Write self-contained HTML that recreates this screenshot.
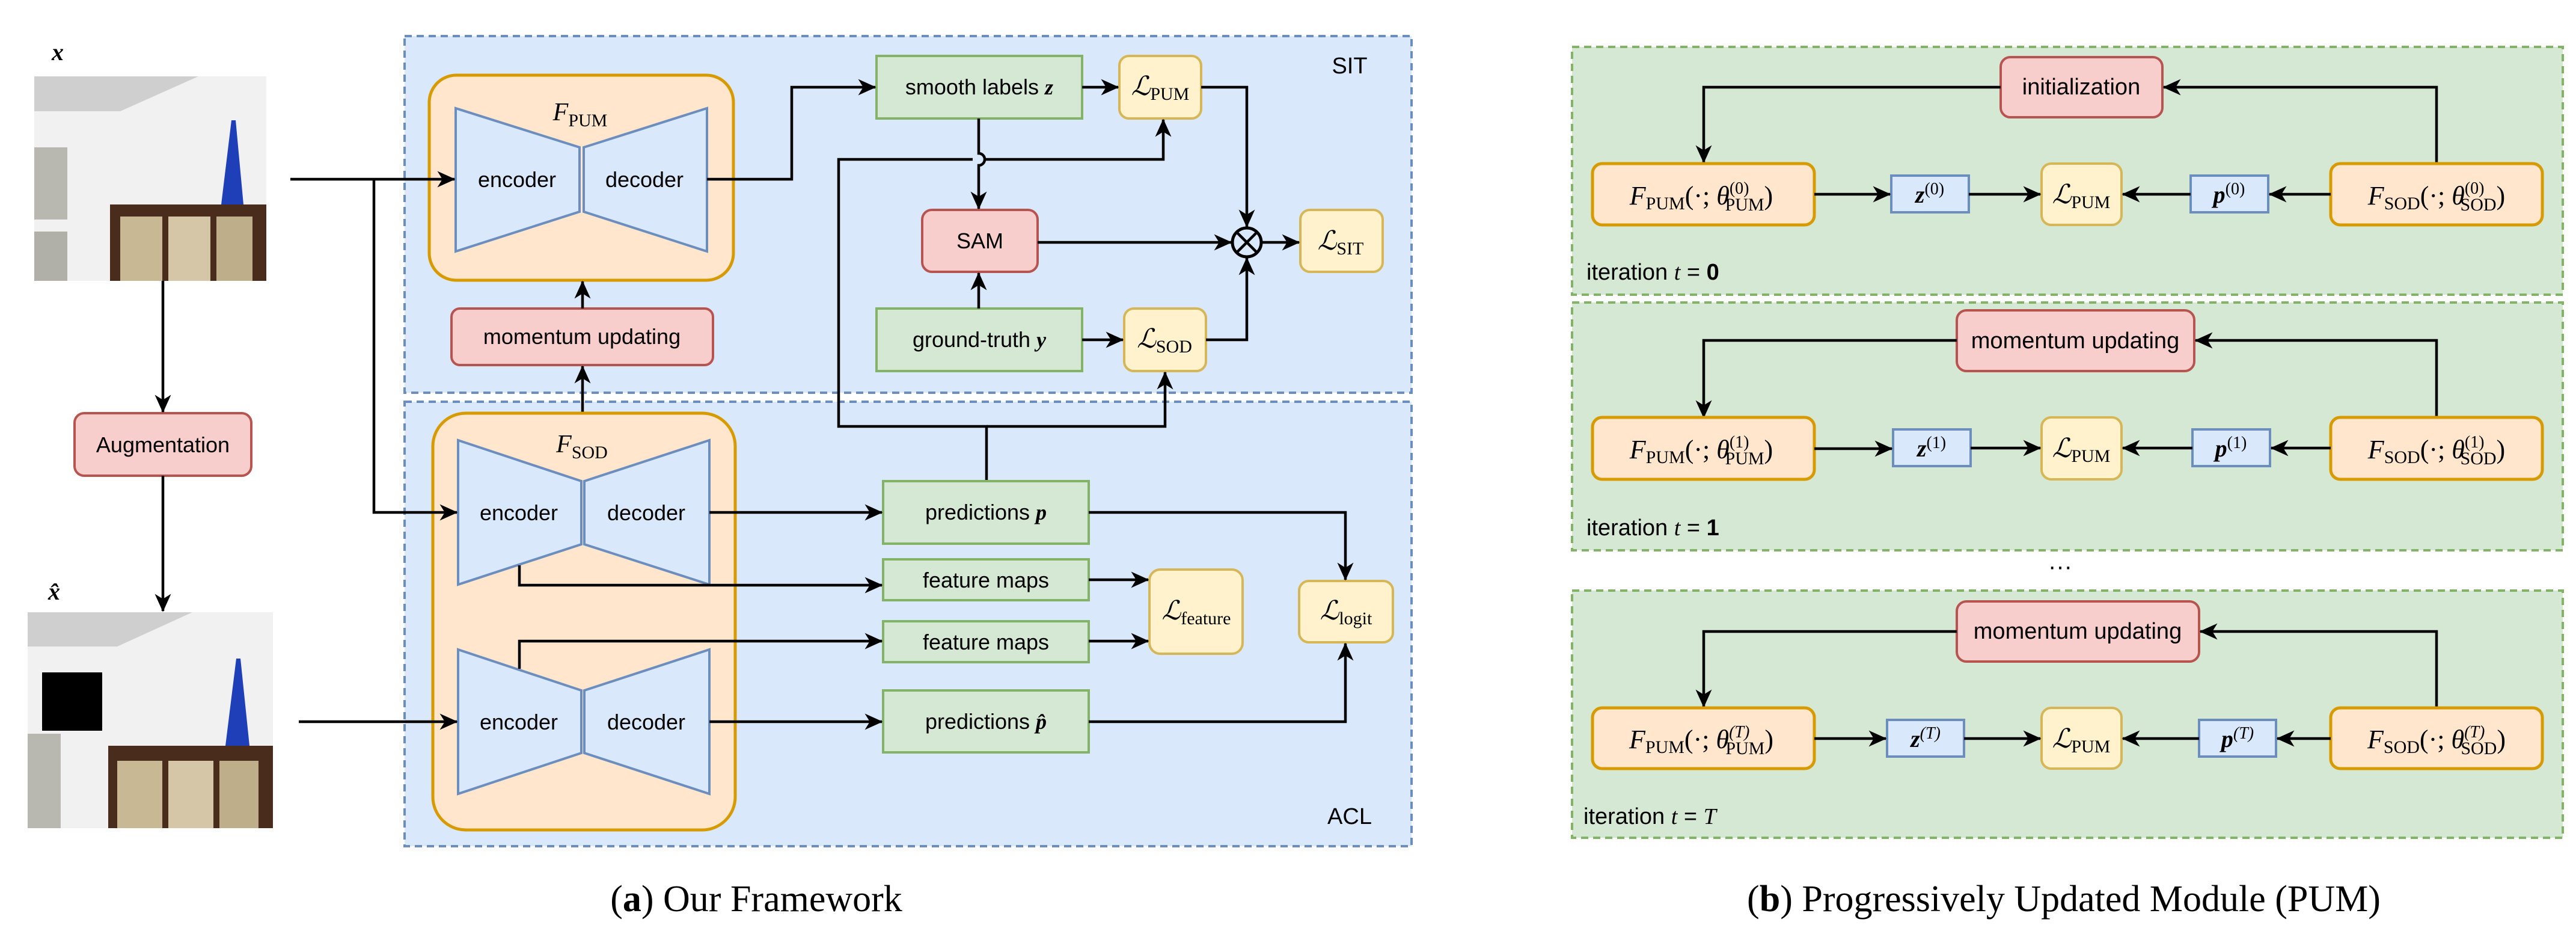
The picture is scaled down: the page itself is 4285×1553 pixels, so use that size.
<!DOCTYPE html>
<html><head><meta charset="utf-8"><style>
html,body{margin:0;padding:0;background:#fff;}
svg{display:block;}
text{font-family:"Liberation Sans",sans-serif;fill:#000;}
.m{font-family:"Liberation Serif",serif;font-style:italic;}
.r{font-family:"Liberation Serif",serif;}
</style></head><body>
<svg width="4285" height="1553" viewBox="0 0 4285 1553" xmlns="http://www.w3.org/2000/svg">
<defs>
<marker id="a" viewBox="0 0 10 10" refX="9.5" refY="5" markerWidth="30" markerHeight="30" markerUnits="userSpaceOnUse" orient="auto">
<path d="M0,0.5 L10,5 L0,9.5 L2.8,5 Z" fill="#000"/>
</marker>
</defs>
<style>
.ln{stroke:#000;stroke-width:4.5;fill:none;marker-end:url(#a);}
.blue{fill:#dae8fc;stroke:#6c8ebf;stroke-width:4;}
.or{fill:#ffe6cc;stroke:#d79b00;stroke-width:5;}
.red{fill:#f8cecc;stroke:#b85450;stroke-width:4;}
.gr{fill:#d5e8d4;stroke:#82b366;stroke-width:4;}
.ye{fill:#fff2cc;stroke:#d6b656;stroke-width:4;}
</style>

<rect x="673" y="60" width="1675" height="593" fill="#dae8fc" stroke="#6c8ebf" stroke-width="4" stroke-dasharray="12,8"/>
<rect x="673" y="668" width="1675" height="739" fill="#dae8fc" stroke="#6c8ebf" stroke-width="4" stroke-dasharray="12,8"/>
<text x="2245" y="122" font-size="38" text-anchor="middle">SIT</text>
<text x="2245" y="1370" font-size="38" text-anchor="middle">ACL</text>

<g>
<rect x="57" y="127" width="386" height="340" fill="#f1f1f1"/>
<polygon points="57,127 330,127 200,185 57,185" fill="#cfcfcf"/>
<rect x="57" y="245" width="55" height="120" fill="#b8b8b0"/>
<rect x="57" y="385" width="55" height="82" fill="#b0b0a8"/>
<polygon points="385,200 368,340 405,340 392,200" fill="#1f3fb8"/>
<rect x="183" y="340" width="260" height="127" fill="#4a2c1c"/>
<rect x="200" y="360" width="70" height="107" fill="#c9b894"/>
<rect x="280" y="360" width="70" height="107" fill="#d4c6a6"/>
<rect x="360" y="360" width="60" height="107" fill="#bfae8a"/>
</g>
<g>
<rect x="46" y="1018" width="408" height="359" fill="#f1f1f1"/>
<polygon points="46,1018 320,1018 195,1075 46,1075" fill="#cfcfcf"/>
<rect x="46" y="1220" width="55" height="157" fill="#b8b8b0"/>
<rect x="70" y="1118" width="100" height="97" fill="#000"/>
<polygon points="393,1095 375,1240 415,1240 400,1095" fill="#1f3fb8"/>
<rect x="180" y="1240" width="274" height="137" fill="#4a2c1c"/>
<rect x="195" y="1265" width="75" height="112" fill="#c9b894"/>
<rect x="280" y="1265" width="75" height="112" fill="#d4c6a6"/>
<rect x="365" y="1265" width="65" height="112" fill="#bfae8a"/>
</g>
<text x="96" y="100" font-size="40" class="m" text-anchor="middle" font-weight="bold">x</text>
<text x="90" y="997" font-size="40" class="m" text-anchor="middle" font-weight="bold">x̂</text>

<rect x="124" y="687" width="294" height="104" rx="16" class="red"/>
<text x="271" y="752" font-size="36" text-anchor="middle">Augmentation</text>
<path d="M271,467 V685" class="ln"/>
<path d="M271,791 V1016" class="ln"/>

<rect x="714" y="125" width="506" height="341" rx="45" class="or"/>
<polygon points="758,180 964,245 964,352 758,418" class="blue"/>
<polygon points="971,245 1176,180 1176,418 971,352" class="blue"/>
<text x="965" y="200" font-size="42" class="m" text-anchor="middle">F<tspan font-size="30" dy="10" font-style="normal">PUM</tspan></text>
<text x="860" y="311" font-size="36" text-anchor="middle">encoder</text>
<text x="1072" y="311" font-size="36" text-anchor="middle">decoder</text>

<rect x="751" y="513" width="435" height="94" rx="14" class="red"/>
<text x="968" y="572" font-size="36" text-anchor="middle">momentum updating</text>
<path d="M969,513 V468" class="ln"/>
<path d="M969,687 V609" class="ln"/>

<rect x="720" y="687" width="503" height="693" rx="55" class="or"/>
<polygon points="762,732 967,800 967,905 762,972" class="blue"/>
<polygon points="972,800 1180,732 1180,972 972,905" class="blue"/>
<polygon points="762,1080 967,1148 967,1252 762,1320" class="blue"/>
<polygon points="972,1148 1180,1080 1180,1320 972,1252" class="blue"/>
<text x="968" y="752" font-size="42" class="m" text-anchor="middle">F<tspan font-size="30" dy="10" font-style="normal">SOD</tspan></text>
<text x="863" y="865" font-size="36" text-anchor="middle">encoder</text>
<text x="1075" y="865" font-size="36" text-anchor="middle">decoder</text>
<text x="863" y="1213" font-size="36" text-anchor="middle">encoder</text>
<text x="1075" y="1213" font-size="36" text-anchor="middle">decoder</text>

<path d="M483,298 H756" class="ln"/>
<path d="M622,298 V852 H760" class="ln"/>
<path d="M497,1200 H760" class="ln"/>

<rect x="1458" y="93" width="342" height="104" class="gr"/>
<text x="1629" y="157" font-size="36" text-anchor="middle">smooth labels <tspan class="m" font-weight="bold">z</tspan></text>
<rect x="1862" y="93" width="136" height="104" rx="16" class="ye"/>
<text x="1930" y="158" font-size="44" class="m" text-anchor="middle">ℒ<tspan font-size="30" dy="8" font-style="normal">PUM</tspan></text>
<rect x="1534" y="349" width="192" height="103" rx="16" class="red"/>
<text x="1630" y="413" font-size="36" text-anchor="middle">SAM</text>
<circle cx="2074" cy="403" r="24" fill="none" stroke="#000" stroke-width="5"/>
<path d="M2057,386 L2091,420 M2091,386 L2057,420" stroke="#000" stroke-width="4.5"/>
<rect x="2163" y="349" width="137" height="103" rx="16" class="ye"/>
<text x="2230" y="415" font-size="44" class="m" text-anchor="middle">ℒ<tspan font-size="30" dy="8" font-style="normal">SIT</tspan></text>
<rect x="1458" y="513" width="342" height="104" class="gr"/>
<text x="1629" y="577" font-size="36" text-anchor="middle">ground-truth <tspan class="m" font-weight="bold">y</tspan></text>
<rect x="1870" y="513" width="136" height="104" rx="16" class="ye"/>
<text x="1937" y="578" font-size="44" class="m" text-anchor="middle">ℒ<tspan font-size="30" dy="8" font-style="normal">SOD</tspan></text>

<path d="M1176,298 H1317 V145 H1456" class="ln"/>
<path d="M1800,145 H1860" class="ln"/>
<path d="M1998,145 H2074 V377" class="ln"/>
<path d="M1628,197 V255 A10,10 0 0 1 1628,275 V347" class="ln"/>
<path d="M1641,800 V709 H1395 V265 H1618 M1638,265 H1935 V199" class="ln"/>
<path d="M1641,709 H1938 V619" class="ln"/>
<path d="M1726,403 H2048" class="ln"/>
<path d="M2098,403 H2161" class="ln"/>
<path d="M1628,513 V454" class="ln"/>
<path d="M1800,565 H1868" class="ln"/>
<path d="M2006,565 H2074 V429" class="ln"/>

<rect x="1469" y="800" width="342" height="104" class="gr"/>
<text x="1640" y="864" font-size="36" text-anchor="middle">predictions <tspan class="m" font-weight="bold">p</tspan></text>
<rect x="1469" y="930" width="342" height="68" class="gr"/>
<text x="1640" y="977" font-size="36" text-anchor="middle">feature maps</text>
<rect x="1469" y="1033" width="342" height="68" class="gr"/>
<text x="1640" y="1080" font-size="36" text-anchor="middle">feature maps</text>
<rect x="1469" y="1148" width="342" height="103" class="gr"/>
<text x="1640" y="1212" font-size="36" text-anchor="middle">predictions <tspan class="m" font-weight="bold">p̂</tspan></text>
<rect x="1912" y="947" width="155" height="140" rx="18" class="ye"/>
<text x="1990" y="1030" font-size="44" class="m" text-anchor="middle">ℒ<tspan font-size="30" dy="8" font-style="normal">feature</tspan></text>
<rect x="2161" y="966" width="156" height="102" rx="16" class="ye"/>
<text x="2239" y="1030" font-size="44" class="m" text-anchor="middle">ℒ<tspan font-size="30" dy="8" font-style="normal">logit</tspan></text>

<path d="M1180,852 H1467" class="ln"/>
<path d="M1180,1200 H1467" class="ln"/>
<path d="M864,940 V973 H1467" class="ln"/>
<path d="M864,1112 V1066 H1467" class="ln"/>
<path d="M1811,964 H1910" class="ln"/>
<path d="M1811,1066 H1910" class="ln"/>
<path d="M1811,852 H2238 V964" class="ln"/>
<path d="M1811,1200 H2238 V1070" class="ln"/>

<text x="1258" y="1515" font-size="62" class="r" text-anchor="middle">(<tspan font-weight="bold">a</tspan>) Our Framework</text>

<rect x="2615" y="78" width="1648" height="412" fill="#d5e8d4" stroke="#82b366" stroke-width="4" stroke-dasharray="12,8"/>
<rect x="2615" y="503" width="1648" height="412" fill="#d5e8d4" stroke="#82b366" stroke-width="4" stroke-dasharray="12,8"/>
<rect x="2615" y="982" width="1648" height="411" fill="#d5e8d4" stroke="#82b366" stroke-width="4" stroke-dasharray="12,8"/>
<text x="3427" y="955" font-size="40" text-anchor="middle">···</text>

<g>
<rect x="3328" y="95" width="269" height="100" rx="16" class="red"/>
<text x="3462" y="157" font-size="38" text-anchor="middle">initialization</text>
<path d="M3328,145 H2834 V270" class="ln"/>
<path d="M4053,272 V145 H3599" class="ln"/>
</g>
<g>
<rect x="3255" y="516" width="395" height="101" rx="16" class="red"/>
<text x="3452" y="579" font-size="38" text-anchor="middle">momentum updating</text>
<path d="M3255,566 H2834 V694" class="ln"/>
<path d="M4053,694 V566 H3652" class="ln"/>
</g>
<g>
<rect x="3255" y="1000" width="403" height="100" rx="16" class="red"/>
<text x="3456" y="1062" font-size="38" text-anchor="middle">momentum updating</text>
<path d="M3255,1050 H2834 V1175" class="ln"/>
<path d="M4053,1177 V1050 H3660" class="ln"/>
</g>

<g>
<rect x="2649" y="272" width="369" height="102" rx="16" class="or"/>
<text x="2830" y="340" font-size="44" class="m" text-anchor="middle">F<tspan font-size="30" dy="8" font-style="normal">PUM</tspan><tspan dy="-8" font-style="normal">(·; </tspan>θ<tspan font-size="28" dy="-18" font-style="normal">(0)</tspan><tspan font-size="30" dx="-40" dy="28" font-style="normal">PUM</tspan><tspan dy="-10" font-style="normal">)</tspan></text>
<rect x="3146" y="292" width="129" height="61" class="blue"/>
<text x="3210" y="337" font-size="40" class="m" text-anchor="middle" font-weight="bold">z<tspan font-size="28" dy="-14" font-weight="normal" font-style="normal">(0)</tspan></text>
<rect x="3396" y="272" width="133" height="102" rx="16" class="ye"/>
<text x="3462" y="338" font-size="44" class="m" text-anchor="middle">ℒ<tspan font-size="30" dy="8" font-style="normal">PUM</tspan></text>
<rect x="3644" y="292" width="129" height="61" class="blue"/>
<text x="3708" y="337" font-size="40" class="m" text-anchor="middle" font-weight="bold">p<tspan font-size="28" dy="-14" font-weight="normal" font-style="normal">(0)</tspan></text>
<rect x="3877" y="272" width="352" height="102" rx="16" class="or"/>
<text x="4053" y="340" font-size="44" class="m" text-anchor="middle">F<tspan font-size="30" dy="8" font-style="normal">SOD</tspan><tspan dy="-8" font-style="normal">(·; </tspan>θ<tspan font-size="28" dy="-18" font-style="normal">(0)</tspan><tspan font-size="30" dx="-40" dy="28" font-style="normal">SOD</tspan><tspan dy="-10" font-style="normal">)</tspan></text>
<path d="M3018,323 H3144" class="ln"/>
<path d="M3275,323 H3394" class="ln"/>
<path d="M3644,323 H3531" class="ln"/>
<path d="M3877,323 H3775" class="ln"/>
<text x="2639" y="465" font-size="38">iteration <tspan class="m">t</tspan> = <tspan font-weight="bold">0</tspan></text>
</g>
<g>
<rect x="2649" y="694" width="369" height="103" rx="16" class="or"/>
<text x="2830" y="762" font-size="44" class="m" text-anchor="middle">F<tspan font-size="30" dy="8" font-style="normal">PUM</tspan><tspan dy="-8" font-style="normal">(·; </tspan>θ<tspan font-size="28" dy="-18" font-style="normal">(1)</tspan><tspan font-size="30" dx="-40" dy="28" font-style="normal">PUM</tspan><tspan dy="-10" font-style="normal">)</tspan></text>
<rect x="3149" y="714" width="129" height="61" class="blue"/>
<text x="3213" y="759" font-size="40" class="m" text-anchor="middle" font-weight="bold">z<tspan font-size="28" dy="-14" font-weight="normal" font-style="normal">(1)</tspan></text>
<rect x="3396" y="694" width="133" height="103" rx="16" class="ye"/>
<text x="3462" y="760" font-size="44" class="m" text-anchor="middle">ℒ<tspan font-size="30" dy="8" font-style="normal">PUM</tspan></text>
<rect x="3647" y="714" width="129" height="61" class="blue"/>
<text x="3711" y="759" font-size="40" class="m" text-anchor="middle" font-weight="bold">p<tspan font-size="28" dy="-14" font-weight="normal" font-style="normal">(1)</tspan></text>
<rect x="3877" y="694" width="352" height="103" rx="16" class="or"/>
<text x="4053" y="762" font-size="44" class="m" text-anchor="middle">F<tspan font-size="30" dy="8" font-style="normal">SOD</tspan><tspan dy="-8" font-style="normal">(·; </tspan>θ<tspan font-size="28" dy="-18" font-style="normal">(1)</tspan><tspan font-size="30" dx="-40" dy="28" font-style="normal">SOD</tspan><tspan dy="-10" font-style="normal">)</tspan></text>
<path d="M3018,746 H3147" class="ln"/>
<path d="M3278,745 H3394" class="ln"/>
<path d="M3647,745 H3531" class="ln"/>
<path d="M3877,745 H3778" class="ln"/>
<text x="2639" y="890" font-size="38">iteration <tspan class="m">t</tspan> = <tspan font-weight="bold">1</tspan></text>
</g>
<g>
<rect x="2649" y="1177" width="369" height="101" rx="16" class="or"/>
<text x="2830" y="1244" font-size="44" class="m" text-anchor="middle">F<tspan font-size="30" dy="8" font-style="normal">PUM</tspan><tspan dy="-8" font-style="normal">(·; </tspan>θ<tspan font-size="28" dy="-18">(T)</tspan><tspan font-size="30" dx="-40" dy="28" font-style="normal">PUM</tspan><tspan dy="-10" font-style="normal">)</tspan></text>
<rect x="3139" y="1197" width="128" height="61" class="blue"/>
<text x="3203" y="1242" font-size="40" class="m" text-anchor="middle" font-weight="bold">z<tspan font-size="28" dy="-14" font-weight="normal">(T)</tspan></text>
<rect x="3396" y="1177" width="133" height="101" rx="16" class="ye"/>
<text x="3462" y="1243" font-size="44" class="m" text-anchor="middle">ℒ<tspan font-size="30" dy="8" font-style="normal">PUM</tspan></text>
<rect x="3658" y="1197" width="128" height="61" class="blue"/>
<text x="3722" y="1242" font-size="40" class="m" text-anchor="middle" font-weight="bold">p<tspan font-size="28" dy="-14" font-weight="normal">(T)</tspan></text>
<rect x="3877" y="1177" width="352" height="101" rx="16" class="or"/>
<text x="4053" y="1244" font-size="44" class="m" text-anchor="middle">F<tspan font-size="30" dy="8" font-style="normal">SOD</tspan><tspan dy="-8" font-style="normal">(·; </tspan>θ<tspan font-size="28" dy="-18">(T)</tspan><tspan font-size="30" dx="-40" dy="28" font-style="normal">SOD</tspan><tspan dy="-10" font-style="normal">)</tspan></text>
<path d="M3018,1228 H3137" class="ln"/>
<path d="M3267,1228 H3394" class="ln"/>
<path d="M3658,1228 H3531" class="ln"/>
<path d="M3877,1228 H3788" class="ln"/>
<text x="2634" y="1370" font-size="38">iteration <tspan class="m">t</tspan> = <tspan class="m">T</tspan></text>
</g>

<text x="3433" y="1515" font-size="62" class="r" text-anchor="middle">(<tspan font-weight="bold">b</tspan>) Progressively Updated Module (PUM)</text>
</svg>
</body></html>
